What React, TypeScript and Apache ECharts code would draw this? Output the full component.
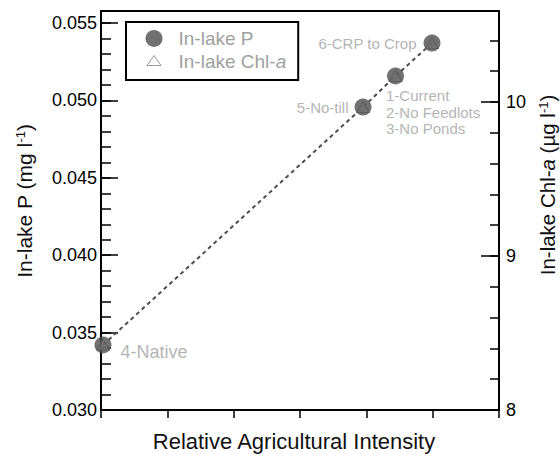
import React, { useEffect, useRef } from 'react';
import * as echarts from 'echarts';

// ---- Data ----
const scenarioLabels = ['4-Native', '5-No-till', '1-Current\n2-No Feedlots\n3-No Ponds', '6-CRP to Crop'];
const agIntensity = [0.03, 3.95, 4.44, 4.99];
const inLakeP = [0.0342, 0.04957, 0.05158, 0.05371];
const inLakeChl = [8.425, 9.968, 10.169, 10.383];

const seriesNames = ['In-lake P', 'In-lake Chl-a'];
const xTitle = 'Relative Agricultural Intensity';

const pAxis = { min: 0.03, max: 0.05578, major: 0.005, minor: 0.001 };
const chlAxis = { min: 8, max: 10.591, major: 1, minor: 0.2 };
const xAxisRange = { min: 0, max: 6, step: 1 };

const FONT = "'Liberation Sans', Arial, Helvetica, sans-serif";
const GRAY = '#a0a0a0';
const DARK = '#4e4e4e';
const INK = '#111111';

const isMultiple = (v: number, step: number) => Math.abs(v / step - Math.round(v / step)) < 1e-6;

export default function App() {
  const ref = useRef<HTMLDivElement>(null);

  useEffect(() => {
    if (!ref.current) return;
    const chart = echarts.init(ref.current, null, { renderer: 'svg' });

    const labelPlacements: any[] = [
      { position: 'right', distance: 9, offset: [0, 7.5], fontSize: 18 },
      { position: 'left', distance: 6 },
      { position: [-1, 20], align: 'left', verticalAlign: 'top', lineHeight: 16.5 },
      { position: 'left', distance: 7 },
    ];

    const pData = agIntensity.map((x, i) => ({
      value: [x, inLakeP[i]],
      name: scenarioLabels[i],
      label: {
        show: true,
        formatter: scenarioLabels[i],
        color: GRAY,
        fontSize: 15,
        fontFamily: FONT,
        ...labelPlacements[i],
      },
    }));
    const chlData = agIntensity.map((x, i) => [x, inLakeChl[i]]);
    const lineData = agIntensity
      .map((x, i) => [x, inLakeP[i]])
      .sort((a, b) => a[0] - b[0]);

    const axisLine = { show: true, onZero: false, lineStyle: { color: '#000', width: 2 } };

    const option: any = {
      animation: false,
      backgroundColor: '#fff',
      grid: { left: 101, right: 61, top: 11, bottom: 44, containLabel: false, outerBoundsMode: 'none' },
      xAxis: [
        {
          type: 'value',
          position: 'bottom',
          min: xAxisRange.min,
          max: xAxisRange.max,
          interval: xAxisRange.step,
          axisLine,
          axisTick: { show: true, inside: false, length: 8, lineStyle: { color: '#000', width: 1.5 } },
          axisLabel: { show: false },
          splitLine: { show: false },
        },
        {
          type: 'value',
          position: 'top',
          min: xAxisRange.min,
          max: xAxisRange.max,
          axisLine,
          axisTick: { show: false },
          axisLabel: { show: false },
          splitLine: { show: false },
        },
      ],
      yAxis: [
        {
          type: 'value',
          position: 'left',
          min: pAxis.min,
          max: pAxis.max,
          interval: pAxis.major,
          axisLine,
          axisTick: { show: true, inside: true, length: 17, lineStyle: { color: '#000', width: 1.5 } },
          axisLabel: {
            show: true,
            margin: 4,
            color: '#000',
            fontSize: 18,
            fontFamily: FONT,
            showMaxLabel: false,
            hideOverlap: false,
            formatter: (v: number) => (isMultiple(v, pAxis.major) ? v.toFixed(3) : ''),
          },
          splitLine: { show: false },
        },
        {
          type: 'value',
          position: 'left',
          min: pAxis.min,
          max: pAxis.max,
          interval: pAxis.minor,
          axisLine: { show: false, onZero: false },
          axisTick: { show: true, inside: true, length: 10, lineStyle: { color: '#000', width: 1.5 } },
          axisLabel: { show: false },
          splitLine: { show: false },
        },
        {
          type: 'value',
          position: 'right',
          min: chlAxis.min,
          max: chlAxis.max,
          interval: chlAxis.major,
          axisLine,
          axisTick: { show: true, inside: true, length: 18, lineStyle: { color: '#000', width: 1.5 } },
          axisLabel: {
            show: true,
            margin: 7,
            color: '#000',
            fontSize: 18,
            fontFamily: FONT,
            showMaxLabel: false,
            hideOverlap: false,
            formatter: (v: number) => (isMultiple(v, chlAxis.major) ? String(Math.round(v)) : ''),
          },
          splitLine: { show: false },
        },
        {
          type: 'value',
          position: 'right',
          min: chlAxis.min,
          max: chlAxis.max,
          interval: chlAxis.minor,
          axisLine: { show: false, onZero: false },
          axisTick: { show: true, inside: true, length: 9, lineStyle: { color: '#000', width: 1.5 } },
          axisLabel: { show: false },
          splitLine: { show: false },
        },
      ],
      legend: {
        left: 126,
        top: 22,
        orient: 'vertical',
        padding: [7, 12, 9, 19],
        itemGap: 4,
        itemWidth: 17,
        itemHeight: 17,
        borderColor: '#000',
        borderWidth: 2,
        selectedMode: false,
        textStyle: {
          color: GRAY,
          fontSize: 19,
          fontFamily: FONT,
          padding: [0, 0, 0, 11],
          rich: { i: { fontStyle: 'italic', color: GRAY, fontSize: 19, fontFamily: FONT } },
        },
        formatter: (name: string) => (name === seriesNames[1] ? 'In-lake Chl-{i|a}' : name),
        data: [
          { name: seriesNames[0], icon: 'circle', itemStyle: { color: DARK, borderWidth: 0 } },
          {
            name: seriesNames[1],
            icon: 'path://M0,0M17,17M1.5,12.5L8.5,2.5L15.5,12.5Z',
            itemStyle: { color: '#fff', borderColor: '#808080', borderWidth: 1 },
          },
        ],
      },
      graphic: [
        {
          type: 'text',
          x: 24,
          y: 201,
          rotation: Math.PI / 2,
          silent: true,
          style: {
            text: 'In-lake P (mg l{sup|-1})',
            fontSize: 21,
            fontFamily: FONT,
            fill: INK,
            align: 'center',
            verticalAlign: 'middle',
            rich: { sup: { fontSize: 13, fontFamily: FONT, fill: INK, verticalAlign: 'top' } },
          },
        },
        {
          type: 'text',
          x: 547,
          y: 185,
          rotation: Math.PI / 2,
          silent: true,
          style: {
            text: 'In-lake Chl-{i|a} (\u00b5g l{sup|-1})',
            fontSize: 20.5,
            fontFamily: FONT,
            fill: INK,
            align: 'center',
            verticalAlign: 'middle',
            rich: {
              i: { fontSize: 20.5, fontFamily: FONT, fill: INK, fontStyle: 'italic' },
              sup: { fontSize: 13, fontFamily: FONT, fill: INK, verticalAlign: 'top' },
            },
          },
        },
        {
          type: 'text',
          x: 294,
          y: 441,
          silent: true,
          style: {
            text: xTitle,
            fontSize: 22,
            fontFamily: FONT,
            fill: INK,
            align: 'center',
            verticalAlign: 'middle',
          },
        },
      ],
      series: [
        {
          name: 'P trend',
          type: 'line',
          xAxisIndex: 0,
          yAxisIndex: 0,
          data: lineData,
          showSymbol: false,
          symbol: 'none',
          silent: true,
          z: 1,
          lineStyle: { color: DARK, width: 2, type: [4, 3.5] },
        },
        {
          name: seriesNames[1],
          type: 'scatter',
          xAxisIndex: 0,
          yAxisIndex: 2,
          data: chlData,
          symbol: 'triangle',
          symbolSize: [13, 11],
          silent: true,
          z: 2,
          itemStyle: { color: '#fff', borderColor: '#808080', borderWidth: 1 },
        },
        {
          name: seriesNames[0],
          type: 'scatter',
          xAxisIndex: 0,
          yAxisIndex: 0,
          data: pData,
          symbol: 'circle',
          symbolSize: 17,
          silent: true,
          z: 3,
          itemStyle: { color: DARK },
        },
      ],
    };

    chart.setOption(option);
    return () => {
      chart.dispose();
    };
  }, []);

  return <div ref={ref} style={{ position: 'absolute', left: 0, top: 0, width: 560, height: 454 }} />;
}
